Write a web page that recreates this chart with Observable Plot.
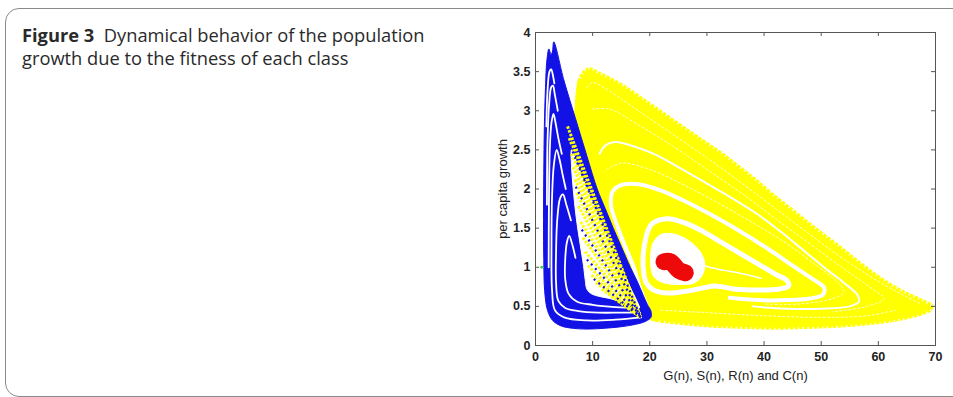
<!DOCTYPE html>
<html><head><meta charset="utf-8">
<script src="https://cdn.jsdelivr.net/npm/d3@7"></script>
<script src="https://cdn.jsdelivr.net/npm/@observablehq/plot@0.6"></script>
<style>
body{margin:0;background:#fff;width:953px;height:397px;overflow:hidden;position:relative}
#box{position:absolute;left:5px;top:8px;width:990px;height:387px;border:1.4px solid #8a8a8a;border-radius:14px}
#cap{position:absolute;left:22px;top:23px;font-family:"Open Sans",sans-serif;font-size:18.3px;line-height:23px;color:#2a2a2a;white-space:nowrap}
#chart{position:absolute;left:480px;top:20px}
</style></head>
<body>
<div id="box"></div>
<div id="cap"><b>Figure 3</b>&nbsp; Dynamical behavior of the population<br>growth due to the fitness of each class</div>
<div id="chart"></div>
<script>
const xTicks = [0,10,20,30,40,50,60,70];
const yTicks = [0,0.5,1,1.5,2,2.5,3,3.5,4];
const xLabel = "G(n), S(n), R(n) and C(n)";
const yLabel = "per capita growth";

// yellow region (class trajectory) outline
const yellowOuter = [[7.0,2.75],[7.1,3.2],[7.6,3.42],[8.5,3.52],[9.6,3.55],[11,3.5],[13,3.43],[15.5,3.33],[18.5,3.18],[21.3,3.04],[24,2.9],[27,2.75],[30,2.6],[33,2.45],[36,2.28],[38.8,2.12],[41.5,1.95],[44.6,1.77],[47.5,1.6],[50.5,1.43],[53.4,1.27],[56.3,1.1],[59,0.95],[62,0.8],[65,0.68],[68,0.58],[69.5,0.52],[69.3,0.45],[68,0.4],[65,0.34],[62,0.3],[59,0.27],[56,0.25],[52,0.23],[48,0.22],[44,0.21],[40,0.21],[36,0.22],[32,0.23],[28,0.25],[24,0.28],[21,0.31],[19.5,0.36],[18.5,0.6],[16.5,0.95],[14,1.4],[11.2,1.9],[8.8,2.35]];
const yellowGapOuter = [[11.2,2.45],[12.3,2.56],[14,2.6],[17,2.55],[21,2.44],[25,2.28],[30,2.07],[34,1.9],[38.8,1.68],[43,1.45],[47.5,1.18],[51,0.97],[54,0.8],[56.3,0.65],[56.6,0.56],[55,0.5],[50,0.47],[44,0.47],[38,0.5]];
const yellowGapMid = [[19.5,0.5],[18.2,0.75],[17.2,1.0],[15.5,1.3],[14.2,1.55],[13.2,1.8],[13.6,1.98],[15.5,2.06],[18,2.06],[22,1.98],[26,1.85],[31,1.66],[36,1.45],[41,1.22],[45,1.02],[48.5,0.85],[50.5,0.74],[50.3,0.65],[48,0.6],[44,0.58],[39,0.58],[34,0.61]];
const yellowGapInner = [[18.9,0.95],[19.1,1.3],[20.3,1.55],[23,1.62],[26,1.57],[29,1.47],[32,1.34],[35.5,1.19],[39,1.04],[42,0.91],[44,0.83],[44.3,0.76],[42.5,0.72],[39,0.71],[35,0.72],[31.5,0.76],[29,0.73],[26,0.69],[23,0.67],[20.6,0.71],[19.4,0.8]];
const tongueGap = [[29.6,1.02],[31,0.99],[33,0.96],[36,0.92],[39.5,0.86]];
const yellowStripes = [
  [[9.0,3.3],[10,3.36],[13,3.25],[18,3.0],[24,2.7],[30,2.4],[36,2.08],[42,1.75],[48,1.42],[54,1.1],[60,0.82],[65,0.62],[67.5,0.53]],
  [[10,3.02],[13,3.02],[18,2.82],[24,2.55],[30,2.25],[36,1.95],[42,1.62],[48,1.3],[54,0.98],[59,0.72],[61,0.6],[58,0.5],[52,0.43]],
  [[12.5,2.25],[15,2.33],[20,2.25],[26,2.05],[32,1.82],[38,1.57],[44,1.3],[49,1.03],[53,0.8],[54,0.68],[52,0.6],[46,0.53],[40,0.53]],
  [[22,0.45],[30,0.42],[40,0.38],[50,0.36],[58,0.38],[63,0.45]]
];
const centerPool = [[20.2,1.0],[20.5,1.3],[22,1.42],[24.5,1.42],[27,1.33],[28.8,1.2],[29.6,1.05],[29.2,0.9],[27.8,0.8],[25,0.78],[22.5,0.8],[20.8,0.87]];
const redBlob = [[22.5,1.07],[23.6,1.07],[25.1,0.96],[26.2,0.93]];

// blue region
const blueOuter = [[3.2,3.88],[5.0,3.38],[7.0,2.9],[9.0,2.42],[10.8,2.0],[12.2,1.75],[13.6,1.5],[15.1,1.25],[16.6,1.0],[17.8,0.82],[18.8,0.65],[19.6,0.52],[20.2,0.44],[20.2,0.36],[19.3,0.31],[17.5,0.27],[15,0.24],[12,0.22],[9,0.21],[6.5,0.22],[4.5,0.25],[3.0,0.32],[2.1,0.45],[1.6,0.7],[1.45,1.1],[1.4,1.6],[1.45,2.2],[1.55,2.8],[1.75,3.3],[2.0,3.65],[2.35,3.79],[2.7,3.72],[2.95,3.75]];
const blueHole = [[6.3,2.5],[7.4,2.3],[9.3,1.95],[11.2,1.62],[12.9,1.36],[14.4,1.1],[15.6,0.9],[16.8,0.71],[17.8,0.56],[18.2,0.48],[17,0.52],[15,0.56],[13,0.6],[11,0.63],[9.8,0.66],[9.0,0.72],[8.7,0.84],[8.4,1.02],[7.8,1.3],[7.1,1.65],[6.6,2.0],[6.3,2.3]];
const blueGap1 = [[1.9,2.8],[2.1,3.25],[2.45,3.5],[2.75,3.53],[3.0,3.47],[3.3,3.35]];
const blueGap2 = [[2.0,1.8],[2.1,2.6],[2.4,3.1],[2.75,3.3],[3.05,3.32],[3.4,3.2],[3.9,3.0]];
const blueGap3 = [[2.3,1.0],[2.35,1.8],[2.5,2.5],[2.8,2.85],[3.15,2.96],[3.5,2.85],[4.0,2.65],[4.6,2.45]];
const blueGap4 = [[18.5,0.36],[14,0.33],[9,0.32],[5,0.36],[3.4,0.45],[2.9,0.7],[2.8,1.3],[2.9,1.9],[3.2,2.3],[3.7,2.5],[4.2,2.38],[4.7,2.2],[5.3,2.0]];
const blueGap5 = [[18.3,0.42],[15,0.42],[11,0.42],[7.5,0.44],[5.2,0.48],[4.0,0.57],[3.6,0.8],[3.6,1.2],[3.8,1.6],[4.3,1.88],[4.8,1.93],[5.4,1.8],[6.2,1.6]];
const blueGap6 = [[18,0.48],[14,0.49],[10,0.52],[7.3,0.56],[5.8,0.66],[5.2,0.85],[5.2,1.1],[5.5,1.32],[5.9,1.4],[6.4,1.3],[7.0,1.12]];
const fanStarts = [[5.6,2.8],[5.9,2.65],[6.3,2.45],[6.6,2.28],[6.9,2.12],[7.2,1.95],[7.5,1.78],[7.9,1.58],[8.3,1.38],[8.7,1.2],[9.2,1.02],[9.8,0.9],[10.6,0.8],[11.6,0.72],[12.8,0.66]];
const blueFanStarts = [[6.1,2.55],[7.05,2.03],[8.1,1.48],[9.0,1.1],[10.2,0.85]];
const fanApex = [18.4,0.36];
const greenPoint = [[1.1,1.0]];

const Y = "#ffff00", B = "#1212e6", R = "#ee0a0a";
const xy = {x: d => d[0], y: d => d[1]};
const blueGaps = [blueGap1, blueGap2, blueGap3, blueGap4, blueGap5, blueGap6].flatMap((g, k) => g.map(p => ({x: p[0], y: p[1], k})));
const stripes = yellowStripes.flatMap((g, k) => g.map(p => ({x: p[0], y: p[1], k})));
const fan = (starts) => starts.flatMap((s, k) => [{x: s[0], y: s[1], k}, {x: fanApex[0], y: fanApex[1], k}]);
const topRim = yellowOuter.slice(2, 27);
const bottomRim = yellowOuter.slice(27, 42);

const chart = Plot.plot({
  width: 470, height: 375,
  marginLeft: 55, marginRight: 15, marginTop: 12, marginBottom: 50,
  style: {fontFamily: "'Liberation Sans', Arial, sans-serif", fontSize: "12.5px", color: "#222", background: "#fff"},
  x: {domain: [0, 70]},
  y: {domain: [0, 4]},
  marks: [
    Plot.line(yellowOuter, {...xy, fill: Y, stroke: Y, strokeWidth: 1, curve: "catmull-rom-closed"}),
    Plot.line(stripes, {x: "x", y: "y", z: "k", stroke: "#fff", strokeWidth: 1, strokeDasharray: "2,2.5", strokeOpacity: 0.9, curve: "catmull-rom"}),
    Plot.line(topRim, {...xy, stroke: "#fff", strokeWidth: 4, strokeDasharray: "1.2,3.6", strokeLinecap: "butt", curve: "catmull-rom"}),
    Plot.line(bottomRim, {...xy, stroke: "#fff", strokeWidth: 3, strokeDasharray: "1.2,3.6", strokeLinecap: "butt", curve: "catmull-rom"}),
    Plot.line(yellowGapOuter, {...xy, stroke: "#fff", strokeWidth: 2, curve: "catmull-rom"}),
    Plot.line(yellowGapMid, {...xy, stroke: "#fff", strokeWidth: 4, curve: "catmull-rom"}),
    Plot.line(yellowGapInner, {...xy, stroke: "#fff", strokeWidth: 5, curve: "catmull-rom-closed"}),
    Plot.line(tongueGap, {...xy, stroke: "#fff", strokeWidth: 1.5, curve: "catmull-rom"}),
    Plot.line(centerPool, {...xy, fill: "#fff", stroke: "#fff", strokeWidth: 1, curve: "catmull-rom-closed"}),
    Plot.line(redBlob, {...xy, stroke: R, strokeWidth: 17, strokeLinecap: "round", curve: "catmull-rom"}),
    Plot.line(blueOuter, {...xy, fill: B, stroke: B, strokeWidth: 1, curve: "catmull-rom-closed"}),
    Plot.line(blueHole, {...xy, fill: "#fff", stroke: "#fff", strokeWidth: 1, curve: "catmull-rom-closed"}),
    Plot.line(blueGaps, {x: "x", y: "y", z: "k", stroke: "#fff", strokeWidth: 1.8, curve: "catmull-rom"}),
    Plot.line(fan(fanStarts), {x: "x", y: "y", z: "k", stroke: Y, strokeWidth: 3, strokeDasharray: "2.5,1.5", strokeLinecap: "butt"}),
    Plot.line(fan(blueFanStarts), {x: "x", y: "y", z: "k", stroke: B, strokeWidth: 2.2, strokeDasharray: "2,4", strokeLinecap: "butt"}),
    Plot.dot(greenPoint, {...xy, r: 1.4, fill: "#2ee02e", stroke: null}),
    Plot.frame({stroke: "#555", strokeWidth: 1}),
    Plot.tickX(xTicks, {x: d => d, insetTop: 309, stroke: "#555"}),
    Plot.tickX(xTicks, {x: d => d, insetBottom: 309, stroke: "#555"}),
    Plot.tickY(yTicks, {y: d => d, insetRight: 396, stroke: "#555"}),
    Plot.tickY(yTicks, {y: d => d, insetLeft: 396, stroke: "#555"}),
    Plot.axisX({ticks: xTicks, tickSize: 0, tickPadding: 7, tickFormat: d => String(d), fontWeight: "bold", label: null}),
    Plot.axisY({ticks: yTicks, tickSize: 0, tickPadding: 5, tickFormat: d => String(d), fontWeight: "bold", label: null}),
    Plot.axisX({ticks: xTicks, tickSize: 0, tickFormat: () => "", fontSize: 13,
      label: xLabel, labelAnchor: "center", labelOffset: 34, labelArrow: "none"}),
    Plot.axisY({ticks: yTicks, tickSize: 0, tickFormat: () => "", fontSize: 13,
      label: yLabel, labelAnchor: "center", labelOffset: 38, labelArrow: "none"})
  ]
});
document.getElementById("chart").appendChild(chart);
</script>
</body></html>
